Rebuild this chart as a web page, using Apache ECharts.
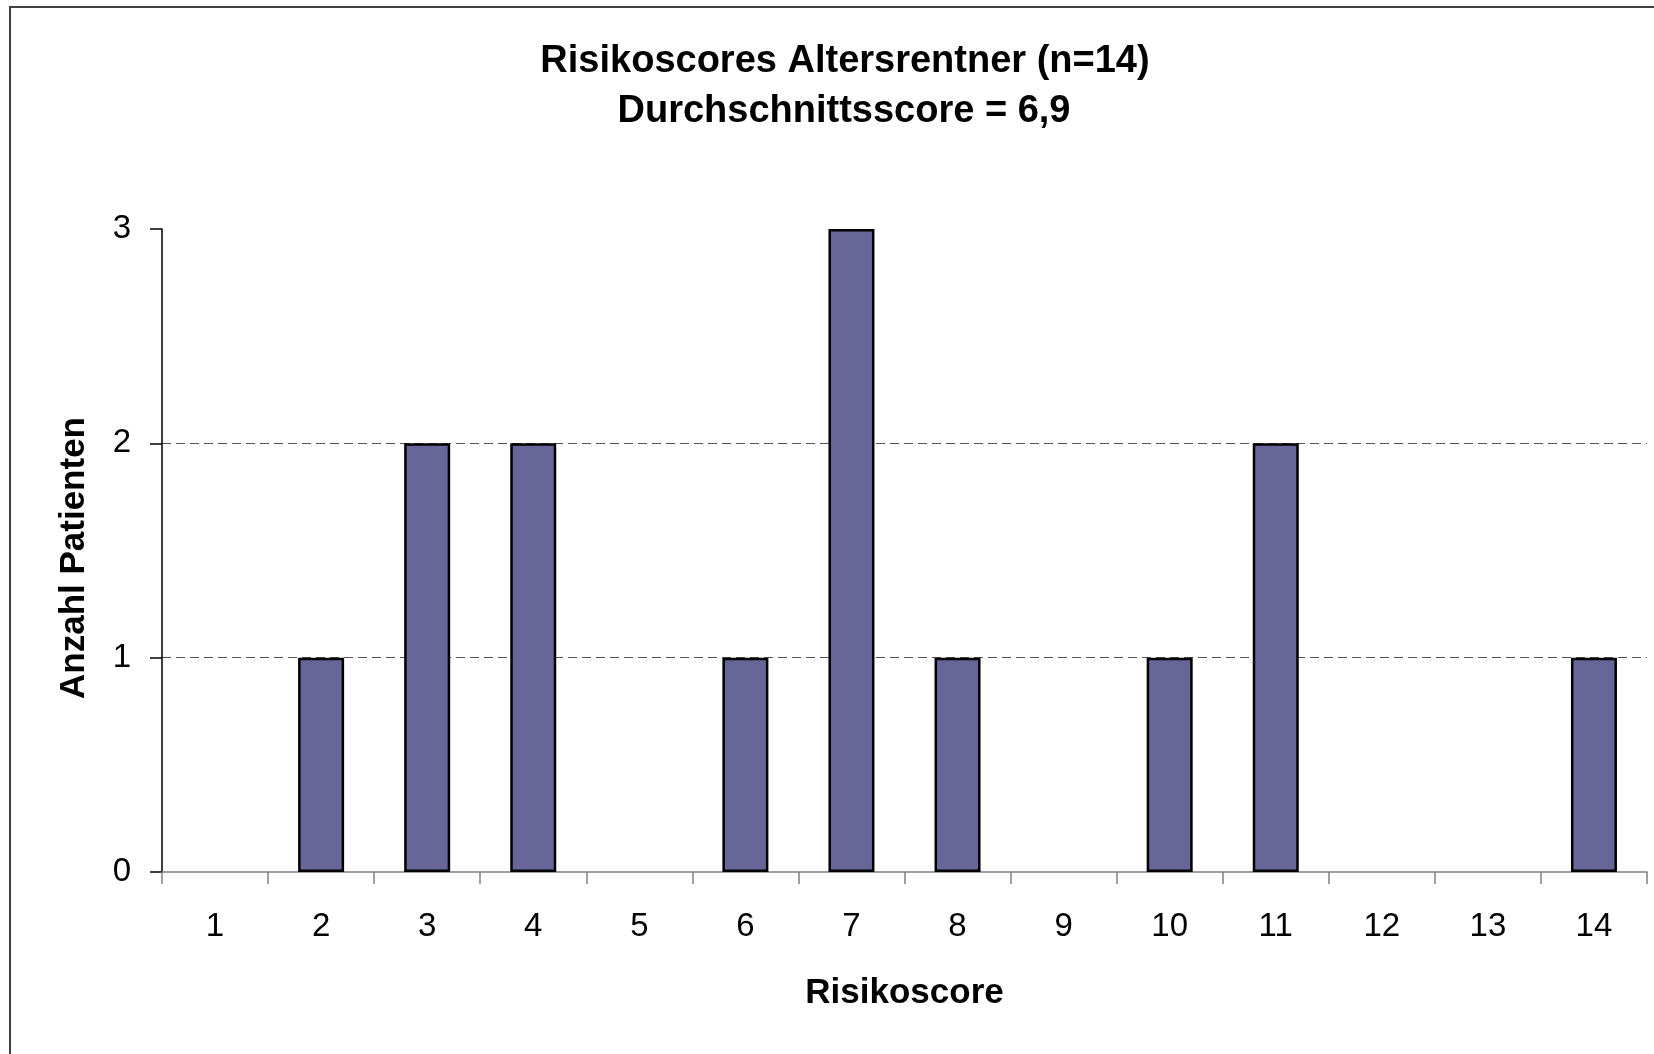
<!DOCTYPE html>
<html>
<head>
<meta charset="utf-8">
<script src="https://cdn.jsdelivr.net/npm/echarts@6/dist/echarts.min.js"></script>
<style>
  html, body { margin: 0; padding: 0; background: #fff; }
  #chart { width: 1654px; height: 1054px; }
</style>
</head>
<body>
<div id="chart"></div>
<script>
// Risk score distribution for old-age pensioners
const scores = ['1', '2', '3', '4', '5', '6', '7', '8', '9', '10', '11', '12', '13', '14'];
const patientCounts = [0, 1, 2, 2, 0, 1, 3, 1, 0, 1, 2, 0, 0, 1];
const countTicks = [0, 1, 2, 3];

const titleLine1 = 'Risikoscores Altersrentner (n=14)';
const titleLine2 = 'Durchschnittsscore = 6,9';

const FONT = '"Liberation Sans", Arial, sans-serif';

// empty categories get no outline so nothing shows on the baseline
const barData = patientCounts.map(v =>
  v === 0 ? { value: v, itemStyle: { borderWidth: 0 } } : v
);

const chart = echarts.init(document.getElementById('chart'), null, { renderer: 'canvas' });

chart.setOption({
  backgroundColor: '#ffffff',
  animation: false,
  graphic: [
    {
      type: 'rect',
      shape: { x: 10, y: 7, width: 3000, height: 3000 },
      style: { fill: 'none', stroke: '#404040', lineWidth: 2 },
      silent: true
    },
    {
      type: 'text',
      x: 845, y: 62,
      style: {
        text: titleLine1, font: 'bold 38px ' + FONT, fill: '#000',
        align: 'center', verticalAlign: 'middle'
      }
    },
    {
      type: 'text',
      x: 844, y: 112,
      style: {
        text: titleLine2, font: 'bold 38px ' + FONT, fill: '#000',
        align: 'center', verticalAlign: 'middle'
      }
    }
  ],
  grid: { left: 162, right: 7, top: 229, bottom: 182 },
  xAxis: {
    type: 'category',
    data: scores,
    boundaryGap: true,
    name: 'Risikoscore',
    nameLocation: 'middle',
    nameGap: 104,
    nameTextStyle: { fontFamily: FONT, fontWeight: 'bold', fontSize: 35, color: '#000' },
    axisLine: { show: true, lineStyle: { color: '#808080', width: 1.5 } },
    axisTick: { show: true, alignWithLabel: false, length: 12, lineStyle: { color: '#808080', width: 1.5 } },
    axisLabel: { fontFamily: FONT, fontSize: 33, color: '#000', margin: 38, interval: 0 },
    splitLine: { show: false }
  },
  yAxis: {
    type: 'value',
    min: countTicks[0],
    max: countTicks[countTicks.length - 1],
    interval: 1,
    name: 'Anzahl Patienten',
    nameLocation: 'middle',
    nameGap: 70,
    nameRotate: 90,
    nameTextStyle: {
      fontFamily: FONT, fontWeight: 'bold', fontSize: 35, color: '#000',
      padding: [0, 15, 0, 0]
    },
    axisLine: { show: true, lineStyle: { color: '#000', width: 1.5 } },
    axisTick: { show: true, inside: false, length: 12, lineStyle: { color: '#000', width: 1.5 } },
    axisLabel: { fontFamily: FONT, fontSize: 33, color: '#000', margin: 31 },
    splitLine: {
      show: true,
      showMinLine: false,
      showMaxLine: false,
      lineStyle: { color: '#555555', width: 1.2, type: [9, 5] }
    }
  },
  series: [
    {
      type: 'bar',
      data: barData,
      barWidth: 46,
      itemStyle: { color: '#666699', borderColor: '#000000', borderWidth: 2.5 }
    }
  ]
});
</script>
</body>
</html>
